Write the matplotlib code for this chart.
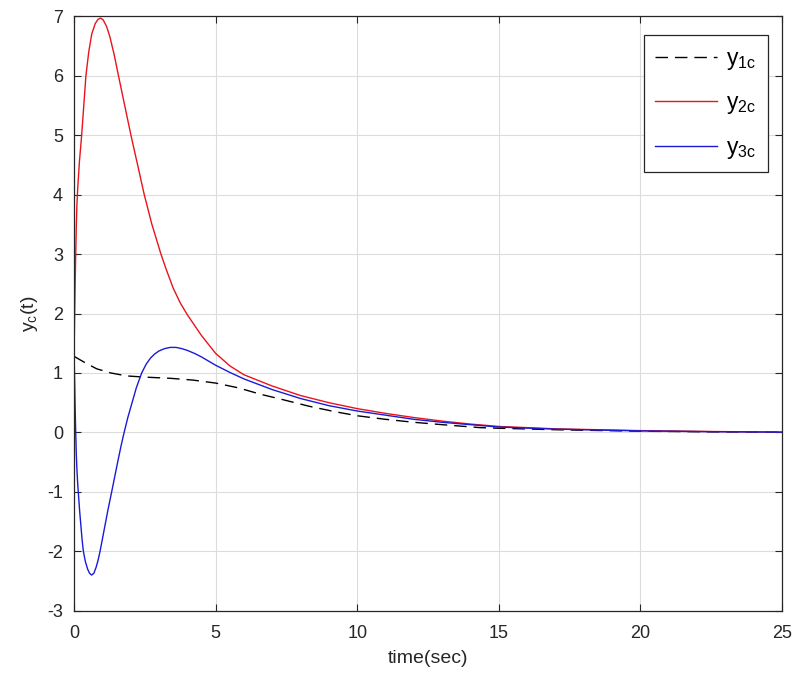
import matplotlib
matplotlib.use("Agg")
import matplotlib.pyplot as plt

plt.rcParams['font.family'] = ['Liberation Sans', 'DejaVu Sans']
plt.rcParams['mathtext.fontset'] = 'custom'
plt.rcParams['mathtext.rm'] = 'Liberation Sans'
plt.rcParams['mathtext.it'] = 'Liberation Sans'
plt.rcParams['axes.unicode_minus'] = False

# y1c (black dashed)
t1 = [0, 0.4, 0.8, 1.3, 1.86, 2.5, 3.4, 4.2, 5.0, 5.8, 6.6, 7.3, 8.3, 9.2, 10,
      11, 12, 13, 14.35, 15, 17, 20, 22.5, 25]
y1 = [1.28, 1.17, 1.07, 1.0, 0.95, 0.93, 0.91, 0.88, 0.83, 0.75, 0.64, 0.56, 0.44,
      0.35, 0.28, 0.22, 0.17, 0.13, 0.08, 0.07, 0.045, 0.02, 0.01, 0.004]

# y2c (red)
t2 = [0, 0.02, 0.04, 0.06, 0.08, 0.1, 0.13, 0.19, 0.27, 0.345, 0.42, 0.52, 0.625,
      0.75, 0.85, 0.94, 1.03, 1.15, 1.27, 1.42, 1.57, 1.79, 2.01, 2.26, 2.48, 2.75,
      3.07, 3.25, 3.5, 3.75, 4.0, 4.5, 5.0, 5.5, 6.0, 7.0, 8.0, 9.0, 10, 11, 12, 13,
      14, 15, 17, 20, 22.5, 25]
y2 = [1.3, 1.9, 2.5, 3.0, 3.45, 3.8, 4.1, 4.55, 5.0, 5.5, 6.0, 6.4, 6.70, 6.88,
      6.95, 6.97, 6.94, 6.83, 6.65, 6.35, 6.0, 5.5, 5.0, 4.47, 4.0, 3.5, 3.0, 2.75,
      2.43, 2.18, 1.98, 1.63, 1.33, 1.12, 0.97, 0.78, 0.62, 0.50, 0.40, 0.32, 0.25,
      0.19, 0.14, 0.10, 0.06, 0.03, 0.015, 0.005]

# y3c (blue)
t3 = [0, 0.02, 0.04, 0.06, 0.08, 0.1, 0.125, 0.15, 0.2, 0.24, 0.28, 0.33, 0.4, 0.48,
      0.55, 0.62, 0.7, 0.78, 0.85, 0.92, 1.0, 1.1, 1.2, 1.33, 1.44, 1.55, 1.66, 1.77,
      1.9, 2.05, 2.2, 2.39, 2.55, 2.7, 2.85, 3.0, 3.2, 3.4, 3.6, 3.8, 4.0, 4.25, 4.5,
      5.0, 5.5, 6.0, 7.0, 8.0, 9.0, 10, 11, 12, 13, 14, 15, 17, 20, 22.5, 25]
y3 = [1.35, 0.9, 0.4, 0.0, -0.35, -0.6, -0.82, -1.0, -1.33, -1.55, -1.78, -2.0,
      -2.17, -2.3, -2.37, -2.40, -2.37, -2.27, -2.15, -2.0, -1.8, -1.55, -1.3, -1.0,
      -0.74, -0.48, -0.23, 0.0, 0.25, 0.5, 0.75, 1.0, 1.15, 1.25, 1.32, 1.37, 1.41,
      1.43, 1.43, 1.41, 1.38, 1.33, 1.27, 1.13, 1.01, 0.90, 0.72, 0.57, 0.45, 0.36,
      0.29, 0.22, 0.17, 0.13, 0.09, 0.055, 0.025, 0.012, 0.004]

labels = [r'y$_{\mathrm{1c}}$', r'y$_{\mathrm{2c}}$', r'y$_{\mathrm{3c}}$']
xticks = [0, 5, 10, 15, 20, 25]
yticks = [-3, -2, -1, 0, 1, 2, 3, 4, 5, 6, 7]

fig = plt.figure(figsize=(7.95, 6.77), dpi=100)
ax = fig.add_axes([0.0931, 0.0979, 0.8905, 0.878])

ax.plot(t1, y1, color='black', linestyle=(0, (9, 5)), linewidth=1.0, label=labels[0])
ax.plot(t2, y2, color='#e8141c', linewidth=1.0, label=labels[1])
ax.plot(t3, y3, color='#1a1ad8', linewidth=1.0, label=labels[2])

ax.set_xlim(0, 25)
ax.set_ylim(-3, 7)
ax.set_xticks(xticks)
ax.set_yticks(yticks)
ax.grid(True, color='#dcdcdc', linewidth=0.8)
ax.set_axisbelow(True)
ax.tick_params(direction='in', top=True, right=True, length=5, width=0.8,
               labelsize=13, colors='#262626')
ax.tick_params(axis='x', pad=10)
ax.tick_params(axis='y', pad=8)
for s in ax.spines.values():
    s.set_color('#262626')
    s.set_linewidth(0.9)

ax.set_xlabel('time(sec)', fontsize=14, color='#262626', labelpad=6)
ax.set_ylabel(r'y$_{\mathrm{c}}$(t)', fontsize=14, color='#262626', labelpad=5)

leg = ax.legend(loc='upper right', bbox_to_anchor=(0.980, 0.968), borderaxespad=0,
                fontsize=16.5, handlelength=2.7, handletextpad=0.4, labelspacing=0.85,
                borderpad=0.5, fancybox=False, framealpha=1, edgecolor='#262626')
leg.get_frame().set_linewidth(0.9)

fig.savefig('out.png', dpi=100)
